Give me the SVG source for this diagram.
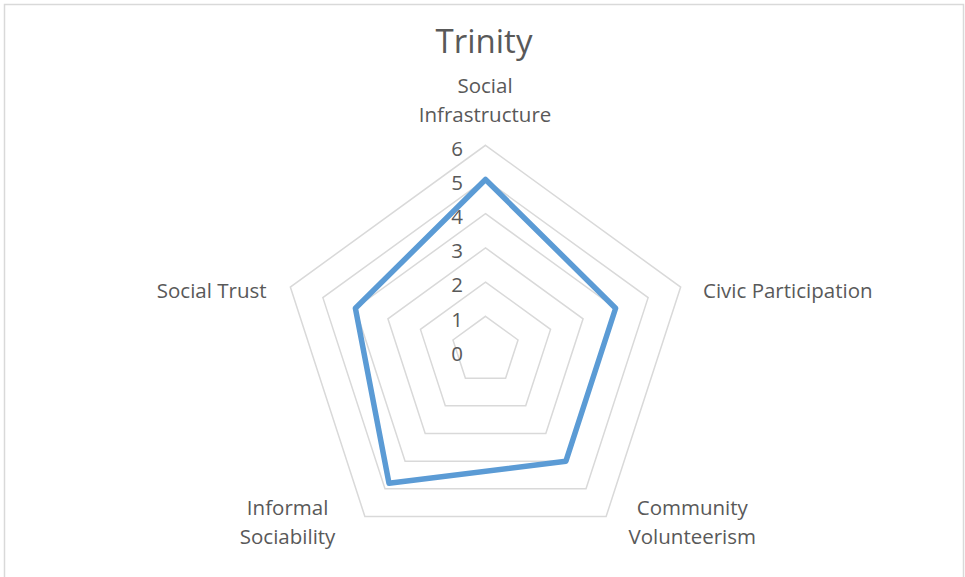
<svg xmlns="http://www.w3.org/2000/svg" width="965" height="577" viewBox="0 0 965 577">
  <style>
    .t { font-family: "Open Sans", "Liberation Sans", sans-serif; fill: #595959; }
    .cat { font-size: 20.5px; text-anchor: middle; }
    .num { font-size: 20.5px; text-anchor: end; }
    .title { font-size: 33px; text-anchor: middle; }
    .ring { fill: none; stroke: #d9d9d9; stroke-width: 1.5; }
    .series { fill: none; stroke: #5b9bd5; stroke-width: 5.5; stroke-linejoin: round; }
  </style>
  <rect x="0" y="0" width="965" height="577" fill="#ffffff"/>
  <rect x="4.5" y="4.5" width="959" height="600" fill="#ffffff" stroke="#d9d9d9" stroke-width="1.5"/>

  <text id="title" class="t title" x="484" y="53">Trinity</text>

  <g id="grid">
    <polygon class="ring" points="485.5,316.3 518.03,339.93 505.6,378.17 465.4,378.17 452.97,339.93"/>
    <polygon class="ring" points="485.5,282.1 550.55,329.36 525.7,405.84 445.3,405.84 420.45,329.36"/>
    <polygon class="ring" points="485.5,247.9 583.08,318.79 545.81,433.51 425.19,433.51 387.92,318.79"/>
    <polygon class="ring" points="485.5,213.7 615.61,308.23 565.91,461.17 405.09,461.17 355.39,308.23"/>
    <polygon class="ring" points="485.5,179.5 648.13,297.66 586.01,488.84 384.99,488.84 322.87,297.66"/>
    <polygon class="ring" points="485.5,145.3 680.66,287.09 606.12,516.51 364.88,516.51 290.34,287.09"/>
  </g>

  <g id="axis-labels">
    <text class="t num" x="463" y="156">6</text>
    <text class="t num" x="463" y="190.1">5</text>
    <text class="t num" x="463" y="224.2">4</text>
    <text class="t num" x="463" y="258.3">3</text>
    <text class="t num" x="463" y="292.4">2</text>
    <text class="t num" x="463" y="326.5">1</text>
    <text class="t num" x="463" y="360.6">0</text>
  </g>

  <g id="series">
    <polygon class="series" points="485.5,179.5 615.61,308.23 565.91,461.17 389.01,483.31 355.39,308.23"/>
  </g>

  <g id="social-infrastructure">
    <text class="t cat" x="485" y="93.3">Social</text>
    <text class="t cat" x="485" y="121.7">Infrastructure</text>
  </g>
  <g id="civic-participation">
    <text class="t" font-size="20.5" x="703" y="298.3">Civic Participation</text>
  </g>
  <g id="community-volunteerism">
    <text class="t cat" x="692.3" y="515.4">Community</text>
    <text class="t cat" x="692.3" y="543.8">Volunteerism</text>
  </g>
  <g id="informal-sociability">
    <text class="t cat" x="287.6" y="515.4">Informal</text>
    <text class="t cat" x="287.6" y="543.8">Sociability</text>
  </g>
  <g id="social-trust">
    <text class="t cat" x="211.7" y="298.3">Social Trust</text>
  </g>
</svg>
